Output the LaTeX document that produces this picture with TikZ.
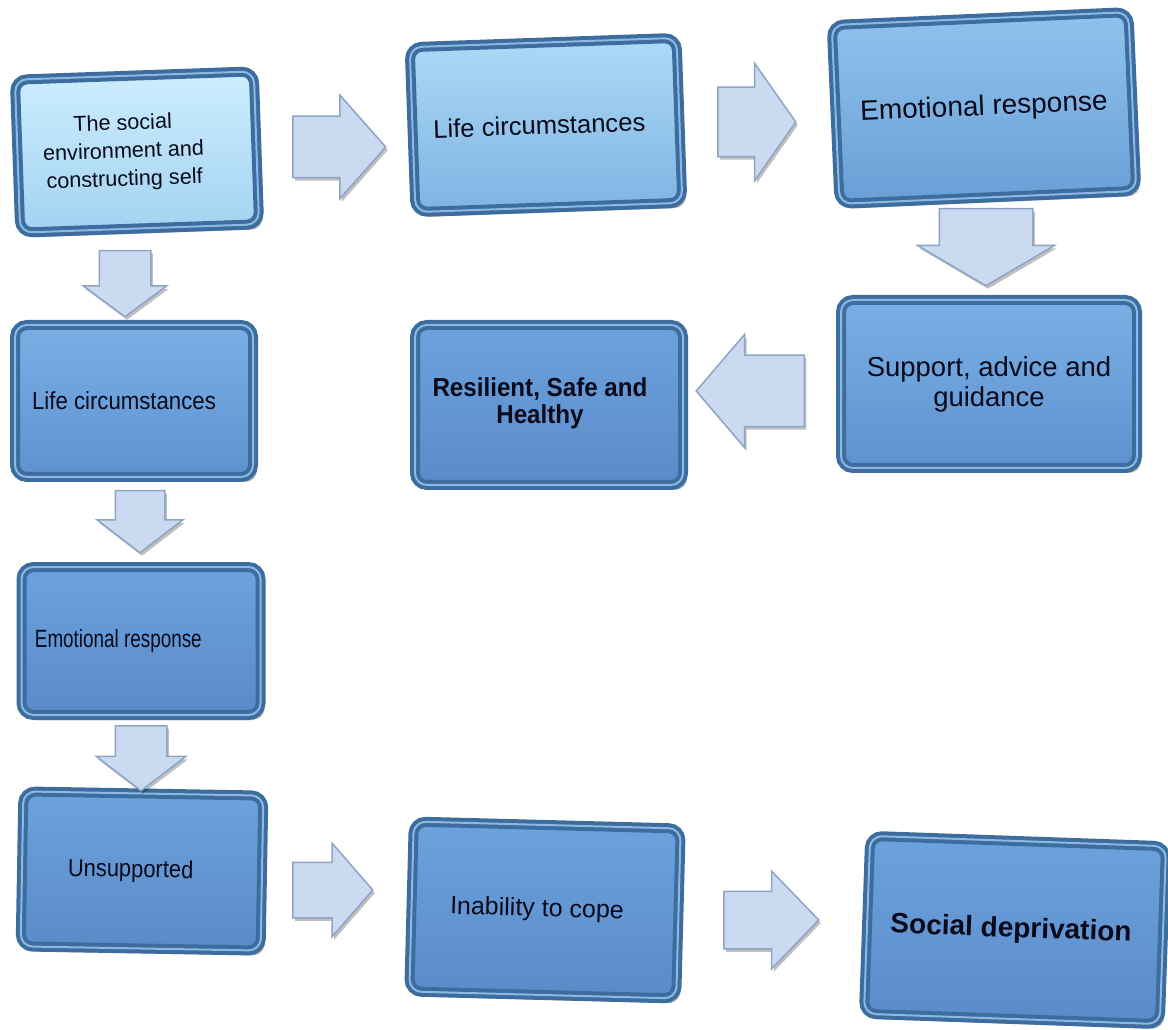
\documentclass[tikz,border=0pt]{standalone}
\usepackage{graphicx}
\usepackage{fontspec}
\setmainfont{Liberation Sans}
\usetikzlibrary{shapes.arrows,shadows}
\newcommand{\pxl}[1]{#1*0.75pt}
\definecolor{framec}{HTML}{3D6D9E}
\definecolor{hlc}{HTML}{8CB9E2}
\definecolor{txtc}{HTML}{0A0A1A}
\definecolor{fAt}{HTML}{CDEEFE}\definecolor{fAb}{HTML}{A2D2F1}
\definecolor{fBt}{HTML}{ACDAF6}\definecolor{fBb}{HTML}{7FB3E2}
\definecolor{fCt}{HTML}{8FC3EC}\definecolor{fCb}{HTML}{6A9FD7}
\definecolor{fDt}{HTML}{7AAFE5}\definecolor{fDb}{HTML}{5E92D0}
\definecolor{fEt}{HTML}{6CA2DD}\definecolor{fEb}{HTML}{5A8BC9}
\definecolor{arrfill}{HTML}{C9DAF1}
\definecolor{arrline}{HTML}{8EA4C4}
\tikzset{
  bx/.style={rectangle, rounded corners=\pxl{12}, draw=framec, line width=\pxl{10},
    align=center, inner sep=0pt, text=txtc,
    drop shadow={shadow xshift=\pxl{4}, shadow yshift=-\pxl{5}, opacity=0.3, fill=black},
    postaction={draw=hlc, line width=\pxl{2}}},
  barrow/.style={single arrow, draw=arrline, fill=arrfill, line width=\pxl{1.5},
    inner sep=0pt, text width=0pt, anchor=tail,
    drop shadow={shadow xshift=\pxl{2}, shadow yshift=-\pxl{3}, opacity=0.25, fill=black}},
  harrow/.style={barrow, inner xsep=0pt, inner ysep=\pxl{#1}},
  varrow/.style={barrow, inner ysep=0pt, inner xsep=\pxl{#1}}
}
\begin{document}
\begin{tikzpicture}[x=0.75pt,y=-0.75pt]
\useasboundingbox (0,0) rectangle (1168,1030);
% boxes
\node[bx, top color=fAt, bottom color=fAb, minimum width=\pxl{239}, minimum height=\pxl{153}, rotate=2,
  font=\fontsize{16.2}{21}\selectfont] (b1) at (137,152)
  {\begin{tabular}{@{}c@{}}The social\\environment and\\constructing self\end{tabular}\hspace*{20pt}};
\node[bx, top color=fBt, bottom color=fBb, minimum width=\pxl{267}, minimum height=\pxl{165}, rotate=2,
  font=\fontsize{19.2}{22}\selectfont] (b2) at (546,125) {Life circumstances\hspace*{10pt}};
\node[bx, top color=fCt, bottom color=fCb, minimum width=\pxl{297}, minimum height=\pxl{179}, rotate=2.5,
  font=\fontsize{21}{24}\selectfont] (b3) at (984,108) {Emotional response};
\node[bx, top color=fDt, bottom color=fDb, minimum width=\pxl{296}, minimum height=\pxl{168},
  font=\fontsize{20.6}{22.5}\selectfont] (b4) at (989,384) {Support, advice and\\guidance};
\node[bx, top color=fEt, bottom color=fEb, minimum width=\pxl{268}, minimum height=\pxl{160},
  font=\bfseries\fontsize{19.5}{20}\selectfont] (b5) at (549,405)
  {\begin{tabular}{@{}c@{}}\scalebox{0.93}[1]{Resilient, Safe and}\\\scalebox{0.93}[1]{Healthy}\end{tabular}\hspace*{13.5pt}};
\node[bx, top color=fDt, bottom color=fDb, minimum width=\pxl{238}, minimum height=\pxl{152},
  font=\fontsize{18.5}{20}\selectfont] (b6) at (134,401) {\scalebox{0.9}[1]{Life circumstances}\hspace*{15pt}};
\node[bx, top color=fEt, bottom color=fEb, minimum width=\pxl{239}, minimum height=\pxl{148},
  font=\fontsize{18.75}{20}\selectfont] (b7) at (141,641) {\scalebox{0.755}[1]{Emotional response}\hspace*{34pt}};
\node[bx, top color=fEt, bottom color=fEb, minimum width=\pxl{240}, minimum height=\pxl{155}, rotate=-1,
  font=\fontsize{18.45}{20}\selectfont] (b8) at (142,871) {\scalebox{0.89}[1]{Unsupported}\hspace*{17pt}};
\node[bx, top color=fEt, bottom color=fEb, minimum width=\pxl{267}, minimum height=\pxl{170}, rotate=-1.5,
  font=\fontsize{18.75}{22}\selectfont] (b9) at (545,910) {Inability to cope\hspace*{12pt}};
\node[bx, top color=fEt, bottom color=fEb, minimum width=\pxl{296}, minimum height=\pxl{178}, rotate=-2,
  font=\bfseries\fontsize{21}{24}\selectfont] (b10) at (1015,930) {\raisebox{-4pt}{Social deprivation}\hspace*{6pt}};
% block arrows
\node[harrow=30, shape border rotate=0, minimum height=\pxl{93}, minimum width=\pxl{102},
  single arrow head extend=\pxl{21}, single arrow tip angle=97] (a1) at (292,147) {};
\node[harrow=34, shape border rotate=0, minimum height=\pxl{78}, minimum width=\pxl{115},
  single arrow head extend=\pxl{24}, single arrow tip angle=110] (a2) at (717,122) {};
\node[varrow=46, shape border rotate=270, minimum height=\pxl{77}, minimum width=\pxl{137},
  single arrow head extend=\pxl{22}, single arrow tip angle=119] (a3) at (986,208) {};
\node[harrow=35, shape border rotate=180, minimum height=\pxl{108}, minimum width=\pxl{112},
  single arrow head extend=\pxl{21}, single arrow tip angle=99] (a4) at (805,391) {};
\node[varrow=25, shape border rotate=270, minimum height=\pxl{66}, minimum width=\pxl{82},
  single arrow head extend=\pxl{16}, single arrow tip angle=107] (a5) at (125,250) {};
\node[varrow=24, shape border rotate=270, minimum height=\pxl{62}, minimum width=\pxl{84},
  single arrow head extend=\pxl{18}, single arrow tip angle=105] (a6) at (140,490) {};
\node[varrow=25, shape border rotate=270, minimum height=\pxl{65}, minimum width=\pxl{88},
  single arrow head extend=\pxl{19}, single arrow tip angle=105] (a7) at (141,725) {};
\node[harrow=27, shape border rotate=0, minimum height=\pxl{80}, minimum width=\pxl{92},
  single arrow head extend=\pxl{19}, single arrow tip angle=98] (a8) at (292,890) {};
\node[harrow=28, shape border rotate=0, minimum height=\pxl{95}, minimum width=\pxl{94},
  single arrow head extend=\pxl{20}, single arrow tip angle=92] (a9) at (723,920) {};
\end{tikzpicture}
\end{document}
